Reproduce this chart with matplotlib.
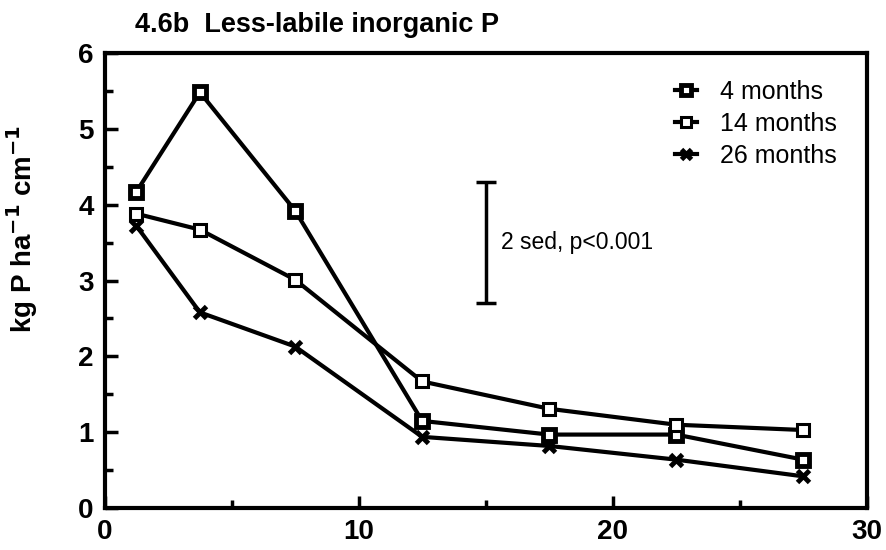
import matplotlib
matplotlib.use("Agg")
import matplotlib.pyplot as plt
from matplotlib.ticker import MultipleLocator

depth = [1.25, 3.75, 7.5, 12.5, 17.5, 22.5, 27.5]
m4 = [4.17, 5.48, 3.92, 1.15, 0.97, 0.97, 0.64]
m14 = [3.88, 3.67, 3.01, 1.67, 1.31, 1.10, 1.03]
m26 = [3.72, 2.58, 2.13, 0.94, 0.82, 0.64, 0.42]
labels = ["4 months", "14 months", "26 months"]
sed_x = 15
sed_lo, sed_hi = 2.7, 4.3
sed_text = "2 sed, p<0.001"

plt.rcParams['font.family'] = ['Liberation Sans', 'DejaVu Sans']
fig = plt.figure(figsize=(8.87, 5.5), dpi=100)
ax = fig.add_axes([0.118, 0.076, 0.859, 0.828])

lw = 3
ax.plot(depth, m4, color='black', lw=lw, marker='s', ms=9, mfc='white',
        mec='black', mew=3.5, label=labels[0])
ax.plot(depth, m14, color='black', lw=lw, marker='s', ms=9, mfc='white',
        mec='black', mew=2.2, label=labels[1])
ax.plot(depth, m26, color='black', lw=lw, marker='x', ms=9, mew=3.5,
        label=labels[2])

ax.errorbar([sed_x], [(sed_lo + sed_hi) / 2], yerr=[[(sed_hi - sed_lo) / 2]],
            fmt='none', ecolor='black', elinewidth=2.5, capsize=7, capthick=2.5)
ax.text(sed_x + 0.6, (sed_lo + sed_hi) / 2, sed_text, fontsize=16.5,
        va='center', ha='left')

ax.set_xlim(0, 30)
ax.set_ylim(0, 6)
ax.xaxis.set_major_locator(MultipleLocator(10))
ax.xaxis.set_minor_locator(MultipleLocator(5))
ax.yaxis.set_major_locator(MultipleLocator(1))
ax.yaxis.set_minor_locator(MultipleLocator(0.5))
ax.tick_params(which='major', direction='in', length=9, width=2.5,
               labelsize=20, top=False, right=False, pad=8)
ax.tick_params(which='minor', direction='in', length=6, width=2.5,
               top=False, right=False)
for lab in ax.get_xticklabels() + ax.get_yticklabels():
    lab.set_fontweight('bold')
for s in ax.spines.values():
    s.set_linewidth(3)

ax.set_ylabel(r"kg P ha$^{\mathbf{-1}}$ cm$^{\mathbf{-1}}$", fontsize=20,
              fontweight='bold')
ax.yaxis.set_label_coords(-0.085, 0.613)
fig.text(0.152, 0.955, "4.6b  Less-labile inorganic P", fontsize=19.5,
         fontweight='bold', ha='left', va='center')

leg = ax.legend(loc='upper right', bbox_to_anchor=(0.99, 0.99), frameon=False,
                fontsize=18, handlelength=0.9, handletextpad=0.9,
                labelspacing=0.32, markerscale=0.8)

fig.savefig("out.png", dpi=100)
